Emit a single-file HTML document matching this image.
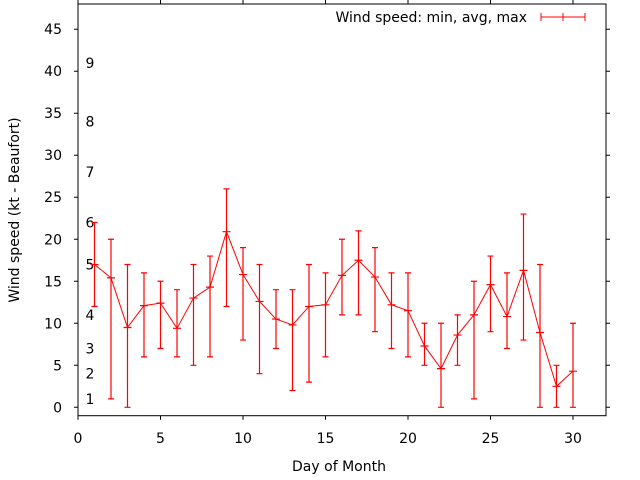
<!DOCTYPE html>
<html><head><meta charset="utf-8"><style>
html,body{margin:0;padding:0;background:#fff;}
svg{display:block;font-family:"DejaVu Sans","Liberation Sans",sans-serif;}
</style></head><body>
<svg id="chart" width="640" height="480" viewBox="0 0 640 480" xmlns="http://www.w3.org/2000/svg"></svg>
<script>
const days=[1,2,3,4,5,6,7,8,9,10,11,12,13,14,15,16,17,18,19,20,21,22,23,24,25,26,27,28,29,30];
const avgSpeed=[17.0,15.4,9.5,12.1,12.4,9.4,13.0,14.3,20.9,15.8,12.6,10.5,9.8,12.0,12.2,15.7,17.5,15.5,12.2,11.5,7.3,4.6,8.6,11.0,14.6,10.8,16.3,8.9,2.5,4.3];
const minSpeed=[12,1,0,6,7,6,5,6,12,8,4,7,2,3,6,11,11,9,7,6,5,0,5,1,9,7,8,0,0,0];
const maxSpeed=[22,20,17,16,15,14,17,18,26,19,17,14,14,17,16,20,21,19,16,16,10,10,11,15,18,16,23,17,5,10];
const xTicks=[0,5,10,15,20,25,30];
const yTicks=[0,5,10,15,20,25,30,35,40,45];
const beaufortKt=[1,4,7,11,17,22,28,34,41];
const beaufortLabels=["1","2","3","4","5","6","7","8","9"];

const L=78,R=606,T=4,B=415.7;
const xMin=0,xMax=32,yMin=-1,yMax=48;
const xs=v=>L+(v-xMin)/(xMax-xMin)*(R-L);
const ys=v=>B-(v-yMin)/(yMax-yMin)*(B-T);
const NS="http://www.w3.org/2000/svg";
const svg=document.getElementById('chart');
function mk(tag,attrs,parent){const e=document.createElementNS(NS,tag);for(const k in attrs)e.setAttribute(k,attrs[k]);(parent||svg).appendChild(e);return e;}

const frame=mk('rect',{x:L,y:T,width:R-L,height:B-T,fill:'none',stroke:'#000','stroke-width':1});



xTicks.forEach(t=>{
  const x=xs(t);
  const tk=mk('path',{d:`M${x},${B}v4M${x},${T}v-4`,stroke:'#000','stroke-width':1});
  
  
  const tx=mk('text',{x:x,y:443,'text-anchor':'middle','font-size':14,fill:'#000'});
  tx.textContent=t;
  
  
});
yTicks.forEach(t=>{
  const y=ys(t);
  const tk=mk('path',{d:`M${L},${y}h-4M${R},${y}h4`,stroke:'#000','stroke-width':1});
  
  
  const tx=mk('text',{x:62,y:y+5,'text-anchor':'end','font-size':14,fill:'#000'});
  tx.textContent=t;
  
  
});
beaufortKt.forEach((k,i)=>{
  const tx=mk('text',{x:90,y:ys(k)+5,'text-anchor':'middle','font-size':14,fill:'#000'});
  tx.textContent=beaufortLabels[i];
  
  
});

const xt=mk('text',{x:339,y:471,'text-anchor':'middle','font-size':14,fill:'#000'});
xt.textContent='Day of Month';


const yt=mk('text',{x:19,y:210,'text-anchor':'middle','font-size':14,fill:'#000',transform:'rotate(-90 19 210)'});
yt.textContent='Wind speed (kt - Beaufort)';



let d='';
days.forEach((dd,i)=>{d+=(i?'L':'M')+xs(dd)+','+ys(avgSpeed[i]);});
const line=mk('path',{d:d,fill:'none',stroke:'#f00','stroke-width':1});


days.forEach((dd,i)=>{
  const x=xs(dd),y0=ys(minSpeed[i]),y1=ys(maxSpeed[i]),ya=ys(avgSpeed[i]);
  const eb=mk('path',{d:`M${x},${y0}V${y1}M${x-3},${y0}h6M${x-3},${y1}h6M${x-4},${ya}h8`,stroke:'#f00','stroke-width':1.2,fill:'none'});
  
  
});

const lt=mk('text',{x:527,y:22,'text-anchor':'end','font-size':14,fill:'#000'});
lt.textContent='Wind speed: min, avg, max';


const ls=mk('path',{d:'M541,17H585M541,13v8M585,13v8M563,13v8',stroke:'#f00','stroke-width':1,fill:'none'});


</script>
</body></html>
